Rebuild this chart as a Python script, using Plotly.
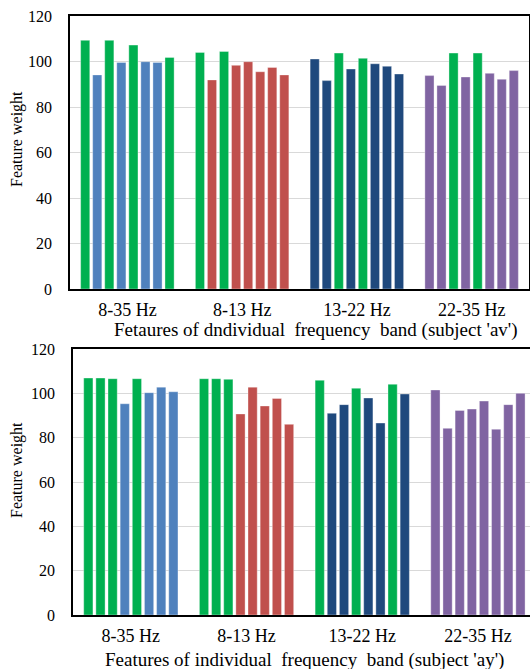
import plotly.graph_objects as go

categories = ["8-35 Hz", "8-13 Hz", "13-22 Hz", "22-35 Hz"]

# subject 'av' (top chart): 8 feature weights per band
av_8_35 = [109.3, 94.1, 109.3, 99.6, 107.2, 99.9, 99.6, 101.8]
av_8_13 = [104.0, 91.9, 104.4, 98.3, 99.9, 95.5, 97.4, 94.1]
av_13_22 = [101.1, 91.6, 103.7, 96.7, 101.4, 99.0, 97.9, 94.5]
av_22_35 = [93.8, 89.5, 103.7, 93.2, 103.7, 94.8, 92.2, 96.0]

# subject 'ay' (bottom chart)
ay_8_35 = [106.9, 106.9, 106.6, 95.3, 106.6, 100.3, 102.8, 100.7]
ay_8_13 = [106.6, 106.6, 106.3, 90.7, 102.8, 94.3, 97.7, 86.0]
ay_13_22 = [105.9, 91.0, 94.9, 102.3, 97.9, 86.6, 104.1, 99.7]
ay_22_35 = [101.5, 84.2, 92.3, 92.9, 96.5, 83.8, 94.9, 100.0]

# colour pattern of each bar (G = green highlight, otherwise band colour)
av_pattern = ["GBGBGBBG", "GRGRRRRR", "NNGNGNNN", "PPGPGPPP"]
ay_pattern = ["GGGBGBBB", "GGGRRRRR", "GNNGNNGN", "PPPPPPPP"]

palette = {"G": "#00B050", "B": "#4F81BD", "R": "#C0504D", "N": "#1F497D", "P": "#8064A2"}

av_groups = [av_8_35, av_8_13, av_13_22, av_22_35]
ay_groups = [ay_8_35, ay_8_13, ay_13_22, ay_22_35]

SERIF = "Liberation Serif"
fig = go.Figure()


def add_bars(groups, pattern, xa, ya):
    for p in range(8):
        fig.add_trace(go.Bar(
            x=categories,
            y=[g[p] for g in groups],
            marker=dict(color=[palette[pattern[i][p]] for i in range(4)],
                        line=dict(color="rgba(255,255,255,0.35)", width=1)),
            xaxis=xa, yaxis=ya, showlegend=False, hoverinfo="y"))


add_bars(av_groups, av_pattern, "x", "y")
add_bars(ay_groups, ay_pattern, "x2", "y2")

W, H = 530, 669


def ydom(top_px, bot_px):
    return [(H - bot_px) / H, (H - top_px) / H]


yaxis_common = dict(range=[0, 120], dtick=20, showgrid=True, gridcolor="#d9d9d9", gridwidth=1.3,
                    zeroline=False, showline=True, linecolor="black", linewidth=1.5,
                    ticks="outside", ticklen=13, tickcolor="rgba(0,0,0,0)",
                    tickfont=dict(family=SERIF, size=16, color="black"), automargin=False)
xaxis_common = dict(type="category", showline=True, linecolor="black", linewidth=1.5,
                    ticks="outside", ticklen=4, tickcolor="rgba(0,0,0,0)",
                    tickfont=dict(family=SERIF, size=18, color="black"), automargin=False,
                    showgrid=False)

fig.update_layout(
    width=W, height=H,
    margin=dict(l=0, r=0, t=0, b=0),
    paper_bgcolor="white", plot_bgcolor="white",
    barmode="group", bargap=0.16, bargroupgap=0.24,
    xaxis=dict(**xaxis_common, domain=[70 / W, 529 / W], range=[-0.5, 3.5], mirror=True, anchor="y"),
    yaxis=dict(**yaxis_common, domain=ydom(16, 289), mirror=True, anchor="x"),
    xaxis2=dict(**xaxis_common, domain=[73 / W, 1.0], range=[-0.5, 3.45], mirror=True, anchor="y2"),
    yaxis2=dict(**yaxis_common, domain=ydom(349, 615), anchor="x2"),
)

ann_font = dict(family=SERIF, size=19, color="black")
fig.add_annotation(text="Fetaures of dndividual  frequency  band (subject 'av')", x=316 / W, y=(H - 330) / H,
                   xref="paper", yref="paper", showarrow=False, font=ann_font, xanchor="center", yanchor="middle")
fig.add_annotation(text="Features of individual  frequency  band (subject 'ay')", x=304 / W, y=(H - 660) / H,
                   xref="paper", yref="paper", showarrow=False, font=ann_font, xanchor="center", yanchor="middle")
fig.add_annotation(text="Feature weight", x=17 / W, y=(H - 139) / H, textangle=-90,
                   xref="paper", yref="paper", showarrow=False, font=dict(family=SERIF, size=16, color="black"),
                   xanchor="center", yanchor="middle")
fig.add_annotation(text="Feature weight", x=17 / W, y=(H - 470) / H, textangle=-90,
                   xref="paper", yref="paper", showarrow=False, font=dict(family=SERIF, size=16, color="black"),
                   xanchor="center", yanchor="middle")

fig.write_html("out.html", config={"displayModeBar": False},
               post_script="document.body.style.margin='0';document.body.style.overflow='hidden';")
